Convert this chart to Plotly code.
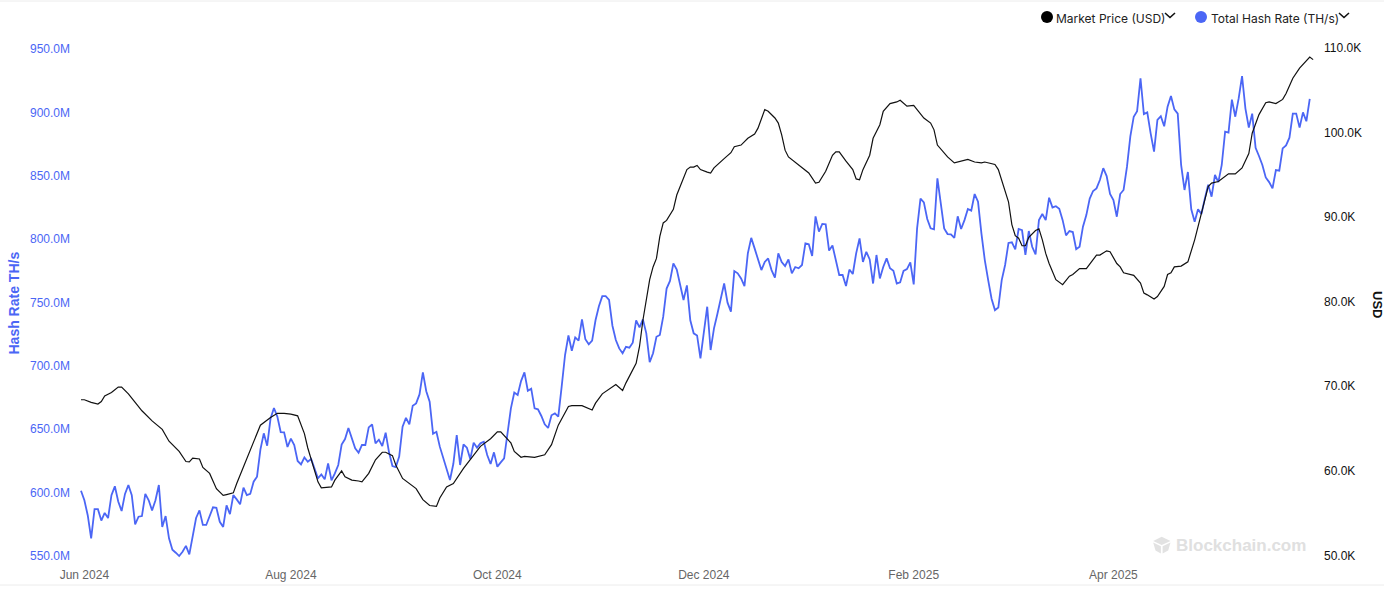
from datetime import datetime, timedelta
import plotly.graph_objects as go

WIDTH = 1384
HEIGHT = 605
LEFT = 76
RIGHT = 1318
TOP = 30
BOTTOM = 563
BLUE = "#4B66F5"
BLACK = "#111111"
FIRST_DAY = datetime(2024, 5, 31)

# Total hash rate, one value per day from FIRST_DAY (millions of TH/s)
hash_rate = [
    601.5, 594, 582, 564, 587, 587, 578, 584, 580, 598, 605, 593, 585.5, 599, 606, 598,
    575, 581, 581.5, 599, 594, 586, 594, 606, 573, 581.5, 564, 555, 552.6, 550, 553.4, 558,
    551.3, 566.6, 580, 586, 574.5, 574.5, 582, 588.4, 588, 577, 573, 590, 583, 598, 594.7, 590.8,
    604, 598, 599, 608.6, 612.6, 634, 646.8, 637, 658.6, 666.8, 660, 647.8, 647.6, 636, 642.6, 637.6,
    625, 622.3, 627.8, 624.4, 626.5, 618.4, 611.3, 614.4, 610.5, 623, 609.7, 615.2, 621.8, 638, 642.3, 651,
    642.8, 635, 631.5, 637.6, 637.6, 651.5, 653.9, 638.9, 641.8, 636.8, 647.3, 631.8, 621, 620.2, 628.4, 652,
    659, 653.9, 668.6, 670.4, 677.5, 694.9, 680, 671.8, 646.5, 648, 636.3, 627, 619, 610, 622.8, 645.5,
    621.8, 638, 635.5, 626.5, 639.4, 635.5, 638.9, 640.2, 629.7, 622.6, 631.8, 620.5, 623.9, 627, 646.8,
    666.5, 678.9, 677, 688, 694.9, 680.4, 682, 666.5, 665.7, 660.5, 653.9, 651, 661, 662.6, 660, 683.6,
    708.6, 724, 712, 722.5, 720, 736.7, 721, 717, 720, 736, 747, 755, 755, 752, 731.7, 720.4,
    713.8, 710, 715, 714.4, 718.3, 736, 730.4, 736.7, 725.7, 703, 710, 723, 724.4, 738.8, 761, 767,
    780.9, 776, 763.8, 752, 763.5, 736, 725.7, 724, 706, 727, 746.7, 712.5, 729.6, 741, 752, 765,
    749.9, 742.8, 774.8, 773, 769, 763, 788.8, 801, 792.7, 783.5, 775.6, 782, 784.8, 775.6, 769.6, 788.8,
    782, 778.8, 784, 773, 778, 777, 779.6, 796.7, 795.9, 786.7, 818, 805.9, 812, 811.7, 791, 795,
    783.5, 771.7, 771.7, 763, 776, 772.5, 788.8, 800.6, 782, 790, 784, 765, 787.5, 769, 778, 784.8,
    777, 775, 765, 766, 775, 776.4, 781.7, 764.3, 808.5, 832, 829, 815.9, 808.5, 807.7, 848, 827, 808.5,
    804, 803.8, 801, 818, 808, 815, 823.8, 822.5, 835.6, 829.6, 804.6, 783.5, 767.7, 753, 744, 746,
    767.7, 779.6, 797, 797.5, 792, 808, 807, 787.5, 806.4, 794, 788, 815, 819.8, 815, 832.7, 825,
    826, 824, 815, 803, 806.4, 805.6, 792, 794, 809.8, 819, 832, 838, 840, 846.6, 856, 849.8,
    835.6, 830.9, 817.7, 835.6, 838.8, 857, 881, 896.6, 901, 926.9, 898.7, 900, 883.5, 869, 894, 897,
    889, 904.5, 913, 902.4, 899, 858.5, 838.8, 853, 823.5, 813.8, 823.5, 819.8, 832, 843, 833.5, 850.6,
    845, 858.5, 884.8, 884, 910, 896.6, 911, 928.7, 903, 888, 899, 872, 865.6, 858.5, 848.7, 845,
    840, 854.5, 854, 871.6, 874, 880, 899, 899, 888, 900, 893, 910.6,
]

# Market price, read at the bends of the line: days since FIRST_DAY and thousands of USD
price_days = [
    0, 1, 3, 5, 6, 7, 9, 11, 12, 14, 16, 18, 21, 24, 26, 29, 31, 32, 33, 35, 36, 38, 40, 42, 43, 45,
    46, 48, 50, 53, 56, 58, 60, 62, 64, 66, 67, 69, 70, 71, 74, 75, 77, 78, 80, 82, 83, 85, 87, 89,
    90, 92, 93, 95, 97, 99, 101, 103, 105, 106, 108, 110, 113, 115, 118, 121, 123, 124, 127, 128,
    130, 131, 134, 137, 139, 141, 144, 145, 148, 151, 152, 154, 158, 160, 161, 164, 165, 166, 167,
    168, 169, 170, 171, 172, 173, 175, 176, 177, 178, 179, 180, 181, 182, 183, 185, 186, 187, 189,
    190, 192, 193, 195, 197, 199, 200, 202, 203, 205, 206, 207, 208, 209, 210, 212, 214, 215, 217,
    218, 220, 222, 223, 224, 226, 228, 229, 230, 231, 233, 234, 236, 237, 239, 241, 242, 244, 246,
    247, 249, 251, 252, 253, 255, 256, 258, 259, 262, 264, 266, 267, 269, 270, 271, 272, 274, 275,
    276, 277, 278, 279, 280, 282, 283, 284, 285, 286, 288, 290, 292, 293, 295, 297, 300, 301, 303,
    304, 306, 307, 308, 311, 313, 314, 315, 317, 318, 320, 321, 322, 323, 325, 327, 329, 331, 333,
    334, 336, 339, 341, 343, 345, 346, 348, 350, 351, 353, 355, 356, 358, 360, 362, 363, 364,
]
price_usd = [
    68.4, 68.4, 68.1, 67.9, 68.2, 68.85, 69.25, 69.9, 69.9, 69.1, 68.1, 67.1, 65.9, 64.9, 63.5, 62.3,
    61.1, 61.05, 61.5, 61.4, 60.4, 59.7, 57.9, 57.1, 57.2, 57.4, 58.5, 60.5, 62.3, 65.4, 66.3, 66.8,
    66.8, 66.7, 66.5, 64.4, 62.7, 60.1, 58.7, 58.0, 58.1, 58.9, 60.0, 59.3, 58.9, 58.8, 58.7, 59.7,
    61.3, 62.2, 62.2, 61.8, 60.7, 59.1, 58.5, 57.9, 56.6, 55.9, 55.8, 56.8, 58.1, 58.5, 60.3, 61.3,
    62.9, 63.8, 64.6, 64.6, 63.3, 62.3, 61.6, 61.7, 61.6, 61.9, 63.1, 65.4, 67.6, 67.7, 67.7, 67.2,
    68.0, 69.1, 70.2, 69.5, 70.4, 72.7, 74.7, 77.8, 80.2, 82.6, 84.1, 85.1, 87.7, 89.3, 89.6, 90.9,
    92.6, 93.6, 94.6, 95.6, 95.9, 95.9, 96.1, 95.6, 95.3, 95.2, 95.8, 96.6, 96.9, 97.6, 98.3, 98.5,
    99.3, 99.8, 100.5, 102.7, 102.5, 101.7, 101.1, 99.7, 97.9, 97.1, 96.8, 96.2, 95.6, 95.2, 94.0,
    94.1, 95.4, 97.3, 97.7, 97.7, 96.6, 95.6, 94.5, 94.4, 95.6, 97.3, 99.3, 100.9, 102.5, 103.4,
    103.6, 103.8, 103.1, 103.2, 102.7, 101.7, 101.1, 100.3, 98.5, 97.5, 97.1, 96.4, 96.5, 96.8,
    96.5, 96.4, 96.5, 96.3, 96.2, 95.6, 94.4, 91.8, 89.1, 87.8, 87.5, 86.6, 86.6, 87.6, 88.4, 88.6,
    87.3, 85.7, 84.5, 82.6, 82.0, 83.0, 83.2, 83.9, 83.9, 85.5, 85.5, 86.0, 85.9, 84.5, 84.1, 83.4,
    83.1, 82.2, 81.0, 80.8, 80.3, 80.6, 81.8, 83.2, 83.4, 84.1, 84.2, 84.7, 87.3, 90.4, 93.6, 94.0,
    94.2, 95.1, 95.1, 95.8, 97.5, 99.9, 102.1, 103.5, 103.6, 103.4, 103.9, 104.6, 106.4, 107.6, 108.4,
    108.9, 108.6,
]

hash_ticks = [550, 600, 650, 700, 750, 800, 850, 900, 950]
hash_labels = ["550.0M", "600.0M", "650.0M", "700.0M", "750.0M", "800.0M", "850.0M", "900.0M", "950.0M"]
price_ticks = [50, 60, 70, 80, 90, 100, 110]
price_labels = ["50.0K", "60.0K", "70.0K", "80.0K", "90.0K", "100.0K", "110.0K"]
month_ticks = ["2024-06-01", "2024-08-01", "2024-10-01", "2024-12-01", "2025-02-01", "2025-04-01"]
month_labels = ["Jun 2024", "Aug 2024", "Oct 2024", "Dec 2024", "Feb 2025", "Apr 2025"]


# paper coordinates cover only the plot area, so convert from page pixels
def px(x, y):
    return (x - LEFT) / (RIGHT - LEFT), (BOTTOM - y) / (BOTTOM - TOP)


def poly(points, color):
    coords = [px(x, y) for x, y in points]
    path = "M " + " L ".join(f"{a:.5f} {b:.5f}" for a, b in coords) + " Z"
    return dict(type="path", xref="paper", yref="paper", path=path,
                fillcolor=color, line=dict(width=0), layer="below")


def chevron(x, y):
    coords = [px(x, y), px(x + 5, y + 4.5), px(x + 10, y)]
    path = "M " + " L ".join(f"{a:.5f} {b:.5f}" for a, b in coords)
    return dict(type="path", xref="paper", yref="paper", path=path, line=dict(color="#111111", width=1.6))


def dot(x, y, r, color):
    x0, y0 = px(x - r, y + r)
    x1, y1 = px(x + r, y - r)
    return dict(type="circle", xref="paper", yref="paper", x0=x0, y0=y0, x1=x1, y1=y1,
                fillcolor=color, line=dict(width=0))


def rule(y):
    x0, yp = px(0, y)
    x1, _ = px(WIDTH, y)
    return dict(type="line", xref="paper", yref="paper", x0=x0, x1=x1, y0=yp, y1=yp,
                line=dict(color="#ececec", width=1))


def label(x, y, text, anchor="left", **kw):
    xp, yp = px(x, y)
    return dict(xref="paper", yref="paper", x=xp, y=yp, text=text, showarrow=False,
                xanchor=anchor, yanchor="middle", **kw)


hash_dates = [FIRST_DAY + timedelta(days=i) for i in range(len(hash_rate))]
price_dates = [FIRST_DAY + timedelta(days=d) for d in price_days]

fig = go.Figure()
fig.add_trace(go.Scatter(x=price_dates, y=price_usd, name="Market Price (USD)", yaxis="y2",
                         mode="lines", line=dict(color=BLACK, width=1.2)))
fig.add_trace(go.Scatter(x=hash_dates, y=hash_rate, name="Total Hash Rate (TH/s)",
                         mode="lines", line=dict(color=BLUE, width=1.8)))

fig.update_layout(
    width=WIDTH,
    height=HEIGHT,
    margin=dict(l=LEFT, r=WIDTH - RIGHT, t=TOP, b=HEIGHT - BOTTOM),
    paper_bgcolor="white",
    plot_bgcolor="white",
    showlegend=False,
    font=dict(family="Liberation Sans, Arial, sans-serif", size=12),
    xaxis=dict(
        range=["2024-05-29 12:33", "2025-05-31 10:30"],
        tickmode="array", tickvals=month_ticks, ticktext=month_labels,
        showgrid=False, zeroline=False, showline=False, ticks="", ticklabelstandoff=3,
        tickfont=dict(color="#666666", size=12),
    ),
    yaxis=dict(
        range=[544.5, 965],
        tickmode="array", tickvals=hash_ticks, ticktext=hash_labels,
        showgrid=False, zeroline=False, showline=False, ticks="", ticklabelstandoff=5,
        tickfont=dict(color=BLUE, size=12),
    ),
    yaxis2=dict(
        range=[49.11, 112.1], overlaying="y", side="right",
        tickmode="array", tickvals=price_ticks, ticktext=price_labels,
        showgrid=False, zeroline=False, showline=False, ticks="", ticklabelstandoff=5,
        tickfont=dict(color="#111111", size=12),
    ),
    shapes=[
        rule(1), rule(585),
        dot(1047, 17, 6, "#000000"), dot(1201, 17, 6, BLUE),
        chevron(1165, 13), chevron(1339, 13),
        # watermark cube
        poly([(1161.7, 536.7), (1170.5, 541), (1161.7, 545), (1153.2, 541)], "#e2e2e2"),
        poly([(1153.2, 542.5), (1160.9, 546.2), (1160.9, 553.5), (1155.5, 550.5)], "#e2e2e2"),
        poly([(1170.5, 542.5), (1162.6, 546.2), (1162.6, 553.5), (1168.2, 550.5)], "#e2e2e2"),
    ],
    annotations=[
        label(1054, 18, "Market Price (USD)", font=dict(family="Inter", size=12, color="#222222")),
        label(1209, 18, "Total Hash Rate (TH/s)", font=dict(family="Inter", size=12, color="#222222")),
        label(14, 303.5, "<b>Hash Rate TH/s</b>", anchor="center", textangle=-90, font=dict(color=BLUE, size=14)),
        label(1378, 304, "<b>USD</b>", anchor="center", textangle=90, font=dict(color="#111111", size=13)),
        label(1174, 545, "<b>Blockchain.com</b>", font=dict(color="#e0e0e0", size=17)),
    ],
)

fig.write_html("out.html", config=dict(displayModeBar=False),
               post_script="document.body.style.margin='0';")
